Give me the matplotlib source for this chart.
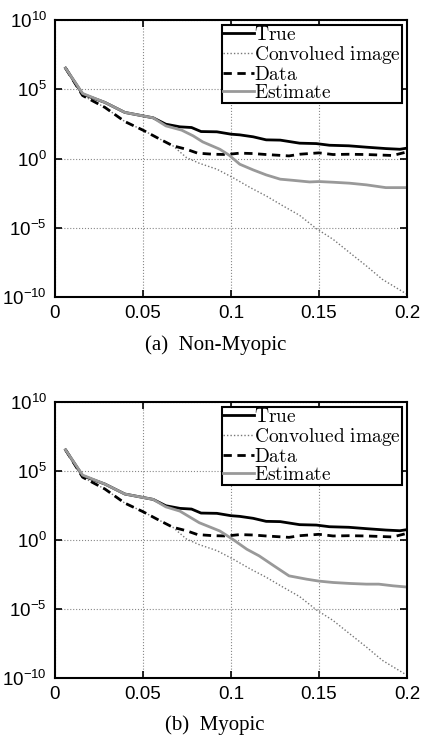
import numpy as np
import matplotlib
matplotlib.use("Agg")
import matplotlib.pyplot as plt
from matplotlib.ticker import FixedLocator

plt.rcParams['font.family'] = ['Liberation Sans', 'DejaVu Sans']
plt.rcParams['mathtext.fontset'] = 'cm'

# values, y as log10
true_x = [0.006, 0.0157, 0.0284, 0.0397, 0.05, 0.0558, 0.063, 0.071, 0.0776, 0.083, 0.092,
          0.1, 0.105, 0.1126, 0.12, 0.128, 0.139, 0.1485, 0.156, 0.167, 0.177, 0.188, 0.196, 0.2]
true_y = [6.53, 4.65, 4.05, 3.33, 3.08, 2.94, 2.48, 2.29, 2.24, 1.95, 1.93,
          1.76, 1.71, 1.57, 1.35, 1.33, 1.11, 1.08, 0.96, 0.92, 0.82, 0.72, 0.67, 0.75]

conv_x = [0.006, 0.0157, 0.0284, 0.0397, 0.05, 0.06, 0.067, 0.0747, 0.082, 0.092, 0.101,
          0.111, 0.12, 0.1296, 0.139, 0.1485, 0.158, 0.1675, 0.177, 0.186, 0.2]
conv_y = [6.53, 4.55, 3.69, 2.67, 2.05, 1.38, 0.92, 0.07, -0.34, -0.77, -1.37,
          -2.10, -2.70, -3.42, -4.10, -5.06, -5.83, -6.80, -7.76, -8.72, -9.8]

data_x = [0.006, 0.0157, 0.0284, 0.0397, 0.05, 0.0596, 0.067, 0.0747, 0.081, 0.09, 0.0975,
          0.105, 0.1126, 0.12, 0.133, 0.139, 0.15, 0.158, 0.167, 0.177, 0.192, 0.2]
data_y = [6.53, 4.55, 3.69, 2.67, 2.05, 1.40, 0.92, 0.67, 0.39, 0.31, 0.29,
          0.39, 0.36, 0.29, 0.19, 0.31, 0.41, 0.29, 0.31, 0.29, 0.22, 0.48]

est_a_x = [0.006, 0.0157, 0.0284, 0.0397, 0.05, 0.0558, 0.063, 0.072, 0.0785, 0.084, 0.0937,
           0.099, 0.105, 0.1126, 0.12, 0.128, 0.135, 0.1447, 0.15, 0.158, 0.1675, 0.177, 0.188, 0.2]
est_a_y = [6.53, 4.7, 4.05, 3.33, 3.08, 2.94, 2.36, 2.05, 1.64, 1.20, 0.67,
           0.24, -0.41, -0.82, -1.18, -1.49, -1.57, -1.69, -1.66, -1.71, -1.78, -1.90, -2.10, -2.10]

est_b_x = [0.006, 0.0157, 0.0284, 0.0397, 0.05, 0.0558, 0.063, 0.071, 0.082, 0.0937, 0.101,
           0.109, 0.116, 0.1245, 0.133, 0.143, 0.15, 0.158, 0.1675, 0.177, 0.184, 0.192, 0.2]
est_b_y = [6.53, 4.7, 4.05, 3.33, 3.08, 2.94, 2.40, 2.09, 1.25, 0.65, 0.05,
           -0.67, -1.15, -1.88, -2.60, -2.84, -2.98, -3.08, -3.15, -3.20, -3.20, -3.32, -3.41]

labels = ['True', 'Convolued image', 'Data', 'Estimate']
captions = ['(a)  Non-Myopic', '(b)  Myopic']


def draw(ax, est_x, est_y):
    ax.semilogy(true_x, 10.0 ** np.array(true_y), color='black', lw=2)
    ax.semilogy(conv_x, 10.0 ** np.array(conv_y), color='#777777', lw=1, ls=(0, (1, 1.5)))
    ax.semilogy(data_x, 10.0 ** np.array(data_y), color='black', lw=2, ls=(0, (3, 2)))
    ax.semilogy(est_x, 10.0 ** np.array(est_y), color='#999999', lw=2)
    ax.set_xlim(0, 0.2)
    ax.set_ylim(1e-10, 1e10)
    ax.xaxis.set_major_locator(FixedLocator([0, 0.05, 0.1, 0.15, 0.2]))
    ax.set_xticklabels(['0', '0.05', '0.1', '0.15', '0.2'])
    ax.yaxis.set_major_locator(FixedLocator([1e-10, 1e-5, 1, 1e5, 1e10]))
    ax.yaxis.set_minor_locator(FixedLocator([]))
    ax.tick_params(direction='in', top=True, right=True, labelsize=13.5, width=1.2,
                   length=5, pad=6)
    for s in ax.spines.values():
        s.set_linewidth(1.5)
    ax.grid(True, ls=':', color='#888888', lw=0.8)
    leg = ax.legend([r'$\mathrm{' + l.replace(' ', r'\ ') + '}$' for l in labels],
                    loc='upper right', fontsize=14, fancybox=False, framealpha=1,
                    edgecolor='black', labelspacing=0.0, handlelength=1.6,
                    handletextpad=0.0, borderpad=0.05, borderaxespad=0.25)
    leg.get_frame().set_linewidth(1.5)


fig = plt.figure(figsize=(4.22, 7.40), dpi=100)
ax1 = fig.add_axes([0.1303, 0.5986, 0.834, 0.3743])
ax2 = fig.add_axes([0.1303, 0.0838, 0.834, 0.373])
draw(ax1, est_a_x, est_a_y)
draw(ax2, est_b_x, est_b_y)
fig.text(0.51, 0.533, captions[0], ha='center', va='center', fontsize=15, family='Liberation Serif')
fig.text(0.51, 0.020, captions[1], ha='center', va='center', fontsize=15, family='Liberation Serif')
fig.savefig('out.png', dpi=100)
